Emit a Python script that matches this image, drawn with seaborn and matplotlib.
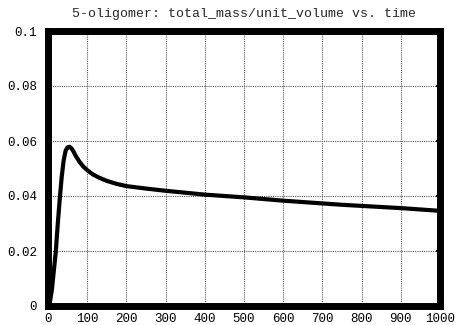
import matplotlib
matplotlib.use("Agg")
import matplotlib.pyplot as plt
import seaborn as sns
import pandas as pd

# ===== DATA =====
time = [0, 5, 10, 15, 20, 25, 30, 35, 40, 45, 50, 55, 60, 65, 70, 80, 90, 100,
        115, 130, 150, 175, 200, 250, 300, 350, 400, 450, 500, 550, 600,
        650, 700, 750, 800, 850, 900, 950, 1000]
total_mass = [0.0, 0.0015, 0.006, 0.013, 0.020, 0.030, 0.039, 0.047, 0.053,
              0.0565, 0.0577, 0.0579, 0.0573, 0.0562, 0.0548, 0.0525, 0.0507, 0.0494,
              0.0478, 0.0467, 0.0455, 0.0444, 0.0436, 0.0427, 0.0419, 0.0412, 0.0405,
              0.0400, 0.0395, 0.0389, 0.0383, 0.0378, 0.0373, 0.0368, 0.0364, 0.0360,
              0.0356, 0.0351, 0.0346]
x_ticks = [0, 100, 200, 300, 400, 500, 600, 700, 800, 900, 1000]
y_ticks = [0, 0.02, 0.04, 0.06, 0.08, 0.1]
y_labels = ["0", "0.02", "0.04", "0.06", "0.08", "0.1"]

df = pd.DataFrame({"time": time, "mass": total_mass})

# ===== STYLE =====
sns.set_theme(style="white")
plt.rcParams["font.family"] = ["Liberation Mono", "DejaVu Sans Mono"]

fig = plt.figure(figsize=(4.62, 3.25), dpi=100)
ax = fig.add_axes([48 / 462, 1 - 306 / 325, (440 - 48) / 462, (306 - 31) / 325])

sns.lineplot(data=df, x="time", y="mass", ax=ax, color="black", linewidth=3)

ax.set_xlim(0, 1000)
ax.set_ylim(0, 0.1)
ax.set_xticks(x_ticks)
ax.set_yticks(y_ticks)
ax.set_yticklabels(y_labels)
ax.grid(True, color="#555555", linestyle=(0, (1, 1)), linewidth=0.8)
ax.tick_params(direction="in", length=3, width=1.5, color="black",
               top=True, right=True, labelsize=9, labelcolor="black")
ax.tick_params(axis="x", pad=5)
ax.tick_params(axis="y", pad=8)
for sp in ax.spines.values():
    sp.set_visible(True)
    sp.set_color("black")
    sp.set_linewidth(5)
ax.set_xlabel("")
ax.set_ylabel("")
ax.set_title("5-oligomer: total_mass/unit_volume vs. time", fontsize=9.5, pad=10)

fig.savefig("out.png", dpi=100)
